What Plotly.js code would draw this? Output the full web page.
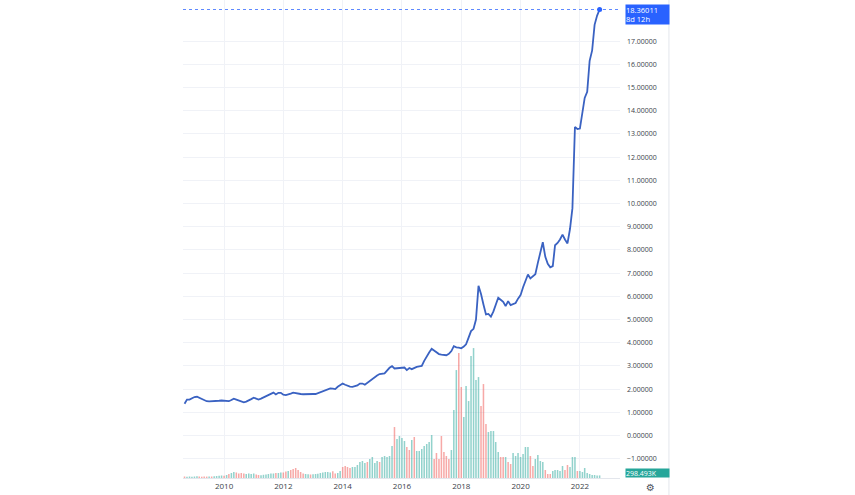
<!DOCTYPE html>
<html>
<head>
<meta charset="utf-8">
<script src="https://cdn.plot.ly/plotly-3.0.1.min.js"></script>
<style>
  html, body { margin: 0; padding: 0; background: #fff; }
  #chart { width: 855px; height: 495px; }
</style>
</head>
<body>
<div id="chart"></div>
<script>
// monthly closes, first bar Sep 2008
const startMonth = '2008-09';
const closes = [
  1.37, 1.55, 1.55, 1.60, 1.66, 1.67, 1.63, 1.57, 1.52, 1.48, 1.47, 1.47,
  1.48, 1.49, 1.50, 1.51, 1.50, 1.50, 1.48, 1.53, 1.59, 1.55, 1.50, 1.46,
  1.43, 1.46, 1.50, 1.57, 1.63, 1.58, 1.55, 1.59, 1.64, 1.67, 1.73, 1.80,
  1.85, 1.77, 1.84, 1.84, 1.76, 1.74, 1.76, 1.81, 1.85, 1.82, 1.79, 1.79,
  1.78, 1.79, 1.79, 1.78, 1.79, 1.79, 1.83, 1.88, 1.93, 1.97, 2.01, 2.03,
  2.02, 2.00, 2.10, 2.18, 2.24, 2.19, 2.15, 2.11, 2.10, 2.12, 2.16, 2.24,
  2.24, 2.19, 2.28, 2.36, 2.45, 2.53, 2.59, 2.65, 2.67, 2.68, 2.80, 2.92,
  2.99, 2.89, 2.90, 2.91, 2.92, 2.93, 2.82, 2.91, 2.86, 2.92, 2.96, 2.98,
  3.00, 3.22, 3.44, 3.58, 3.74, 3.66, 3.58, 3.51, 3.49, 3.48, 3.46, 3.52,
  3.64, 3.85, 3.80, 3.79, 3.76, 3.84, 3.93, 4.22, 4.50, 4.60, 5.00, 6.45,
  6.10, 5.65, 5.22, 5.24, 5.12, 5.35, 5.60, 5.94, 5.85, 5.76, 5.58, 5.79,
  5.62, 5.68, 5.71, 5.90, 6.05, 6.39, 6.70, 6.94, 6.77, 6.88, 6.95, 7.44,
  7.90, 8.33, 7.70, 7.40, 7.25, 7.30, 8.20, 8.30, 8.45, 8.66, 8.45, 8.28,
  8.90, 9.80, 13.30, 13.21, 13.23, 13.85, 14.55, 14.81, 16.15, 16.60, 17.70, 18.10,
  18.36011
];
// monthly volume, thousands
const volumesK = [
  173, 138, 173, 138, 173, 207, 173, 150, 173, 161, 184, 173,
  207, 230, 253, 288, 253, 345, 460, 575, 690, 633, 518, 575,
  518, 460, 518, 460, 518, 403, 345, 322, 368, 403, 460, 518,
  518, 575, 575, 633, 633, 748, 805, 920, 1035, 1150, 920, 690,
  518, 460, 437, 403, 437, 460, 483, 575, 633, 690, 690, 633,
  771, 518, 575, 805, 1265, 1380, 1265, 1150, 1265, 1265, 1495, 1840,
  1955, 1725, 1840, 2185, 2415, 1725, 1955, 1840, 2415, 2530, 2415, 2530,
  3680, 5865, 4485, 4830, 4600, 4255, 3565, 3220, 4370, 4715, 3105, 3105,
  3335, 3680, 3910, 4140, 4945, 2185, 2875, 2185, 4830, 2990, 2530, 2185,
  3220, 7820, 12420, 14375, 10465, 7015, 10580, 8855, 14030, 14950, 11270, 11615,
  8280, 10810, 6210, 5290, 5405, 5405, 4140, 2990, 2415, 2415, 2415, 1840,
  1610, 2875, 2530, 2875, 2415, 2760, 3565, 3565, 2530, 1380, 2185, 2645,
  1955, 1840, 920, 460, 460, 805, 920, 920, 805, 1380, 920, 1495,
  1265, 2415, 2415, 805, 805, 690, 1150, 575, 460, 345, 345, 288,
  298.493
];
// 1 = up month (green), 0 = down month (red)
const upMonths = [
  0, 1, 1, 1, 1, 1, 0, 0, 0, 0, 1, 0,
  1, 1, 1, 1, 0, 1, 0, 1, 1, 0, 0, 0,
  0, 1, 1, 1, 1, 0, 0, 1, 1, 1, 1, 1,
  1, 0, 1, 1, 0, 0, 1, 0, 0, 0, 0, 0,
  0, 1, 1, 0, 1, 1, 1, 1, 1, 1, 1, 1,
  0, 0, 1, 1, 0, 0, 0, 0, 1, 1, 1, 1,
  1, 1, 0, 1, 1, 1, 1, 0, 1, 1, 1, 1,
  1, 0, 1, 1, 1, 1, 0, 0, 1, 0, 1, 1,
  1, 1, 1, 1, 1, 0, 0, 0, 0, 0, 0, 0,
  1, 1, 1, 0, 0, 1, 1, 1, 1, 1, 1, 1,
  0, 0, 0, 1, 1, 1, 1, 1, 0, 0, 1, 0,
  0, 1, 1, 1, 1, 1, 1, 1, 0, 0, 1, 1,
  1, 1, 0, 0, 0, 1, 1, 1, 1, 1, 0, 0,
  1, 1, 1, 0, 1, 1, 1, 1, 1, 1, 1, 1,
  1
];
// price scale labels (18 sits under the last-price tag)
const priceTicks = [-1, 0, 1, 2, 3, 4, 5, 6, 7, 8, 9, 10, 11, 12, 13, 14, 15, 16, 17];
const barCountdown = '8d 12h';

const COLORS = {
  line: '#3a62c2',
  lastBox: '#2962ff',
  lastLine: 'rgba(41,98,255,0.75)',
  up: 'rgba(38,166,154,0.5)',
  down: 'rgba(239,83,80,0.5)',
  volBox: '#26a69a',
  grid: '#f0f2f7',
  text: '#3b3f4a'
};

function monthDates(start, n) {
  const [y0, m0] = start.split('-').map(Number);
  const out = [];
  for (let i = 0; i < n; i++) {
    const t = (m0 - 1) + i;
    const y = y0 + Math.floor(t / 12);
    const m = (t % 12) + 1;
    out.push(y + '-' + String(m).padStart(2, '0') + '-01');
  }
  return out;
}

const dates = monthDates(startMonth, closes.length);
const last = closes.length - 1;
const lastPrice = closes[last];
const lastVol = volumesK[last];
const FONT = '"Open Sans", "Liberation Sans", sans-serif';

const data = [
  {
    x: dates, y: volumesK, type: 'bar', yaxis: 'y',
    marker: { color: upMonths.map(u => u ? COLORS.up : COLORS.down) },
    hoverinfo: 'skip'
  },
  {
    x: dates, y: closes, type: 'scatter', mode: 'lines', yaxis: 'y2',
    line: { color: COLORS.line, width: 1.8 },
    hoverinfo: 'skip'
  },
  {
    x: [dates[last]], y: [lastPrice], type: 'scatter', mode: 'markers', yaxis: 'y2',
    marker: { color: COLORS.lastBox, size: 5 },
    hoverinfo: 'skip'
  }
];

const layout = {
  width: 855, height: 495,
  margin: { l: 183, r: 235, t: 0, b: 17 },
  paper_bgcolor: '#fff', plot_bgcolor: '#fff',
  showlegend: false,
  bargap: 0.33,
  font: { family: FONT, color: COLORS.text, size: 8 },
  xaxis: {
    type: 'date',
    range: ['2008-08-13', '2023-05-10'],
    tick0: '2010-01-01', dtick: 'M24', tickformat: '%Y',
    showgrid: true, gridcolor: COLORS.grid,
    ticks: '', tickfont: { size: 8, color: COLORS.text },
    showline: true, linecolor: '#e3e6ec', linewidth: 1,
    zeroline: false, fixedrange: true
  },
  yaxis: {
    range: [0, 55000], visible: false, fixedrange: true
  },
  yaxis2: {
    overlaying: 'y', side: 'right',
    range: [-1.83, 18.77],
    tickmode: 'array', tickvals: priceTicks, tickformat: '.5f',
    showgrid: true, gridcolor: COLORS.grid, zeroline: false,
    ticks: '', ticklabelstandoff: 6,
    tickfont: { size: 7, color: COLORS.text },
    fixedrange: true
  },
  shapes: [
    { type: 'line', xref: 'paper', x0: 0, x1: 1, yref: 'y2', y0: lastPrice, y1: lastPrice,
      line: { color: COLORS.lastLine, width: 1, dash: 'dot' } },
    { type: 'line', xref: 'paper', x0: 1.112, x1: 1.112, yref: 'paper', y0: -0.04, y1: 1,
      line: { color: '#e3e6ec', width: 1 } }
  ],
  annotations: [
    { xref: 'paper', x: 1, xanchor: 'left', xshift: 5,
      yref: 'y2', y: lastPrice, yanchor: 'top', yshift: 6,
      text: lastPrice.toFixed(5) + '<br>' + barCountdown, showarrow: false, align: 'left',
      bgcolor: COLORS.lastBox, width: 43, height: 19, borderpad: 0,
      font: { family: FONT, size: 7.5, color: '#fff' } },
    { xref: 'paper', x: 1, xanchor: 'left', xshift: 5,
      yref: 'y', y: lastVol, yanchor: 'middle', yshift: 2,
      text: lastVol.toFixed(3) + 'K', showarrow: false, align: 'left',
      bgcolor: COLORS.volBox, width: 43, height: 8, borderpad: 0,
      font: { family: FONT, size: 7, color: '#fff' } },
    { xref: 'paper', x: 1.069, xanchor: 'center', yref: 'paper', y: -0.019, yanchor: 'middle',
      text: '\u2699', showarrow: false,
      font: { family: 'DejaVu Sans', size: 10, color: '#50535e' } }
  ]
};

Plotly.newPlot('chart', data, layout, { displayModeBar: false, staticPlot: true });
</script>
</body>
</html>
